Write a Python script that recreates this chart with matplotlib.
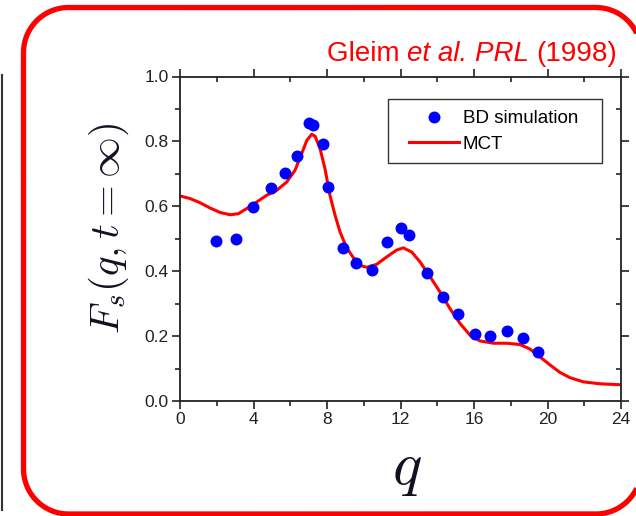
import numpy as np
import matplotlib
matplotlib.use("Agg")
import matplotlib.pyplot as plt
from matplotlib.patches import Rectangle
from matplotlib.lines import Line2D

plt.rcParams['font.family'] = ['Liberation Sans', 'DejaVu Sans']
plt.rcParams['mathtext.fontset'] = 'cm'

# BD simulation points
q_bd = [1.96, 3.05, 3.95, 4.97, 5.71, 6.35, 7.04, 7.25, 7.76, 8.07, 8.85, 9.6,
        10.43, 11.28, 12.02, 12.47, 13.42, 14.29, 15.11, 16.03, 16.88, 17.81,
        18.68, 19.48]
f_bd = [0.492, 0.498, 0.598, 0.657, 0.702, 0.756, 0.856, 0.851, 0.792, 0.658,
        0.470, 0.425, 0.405, 0.491, 0.534, 0.513, 0.393, 0.321, 0.269, 0.205,
        0.199, 0.216, 0.193, 0.150]

# MCT curve
q_mct = [0.0, 0.54, 1.09, 1.63, 2.18, 2.72, 3.17, 3.63, 4.17, 4.72, 5.26, 5.81,
         6.26, 6.62, 6.9, 7.17, 7.35, 7.62, 7.89, 8.16, 8.44, 8.71, 9.07, 9.43,
         9.8, 10.16, 10.7, 11.25, 11.79, 12.15, 12.61, 13.06, 13.61, 14.15,
         14.69, 15.24, 15.78, 16.33, 17.05, 17.78, 18.5, 19.05, 19.59, 20.14,
         20.68, 21.22, 21.95, 22.86, 24.0]
f_mct = [0.632, 0.624, 0.611, 0.595, 0.581, 0.574, 0.577, 0.593, 0.613, 0.634,
         0.649, 0.675, 0.711, 0.762, 0.803, 0.822, 0.816, 0.778, 0.716, 0.634,
         0.572, 0.521, 0.472, 0.442, 0.418, 0.412, 0.421, 0.444, 0.465, 0.472,
         0.459, 0.429, 0.383, 0.336, 0.285, 0.239, 0.203, 0.185, 0.178, 0.178,
         0.174, 0.160, 0.136, 0.111, 0.088, 0.072, 0.059, 0.053, 0.050]

W, H = 636, 516
fig = plt.figure(figsize=(W / 100, H / 100), dpi=100)
ax = fig.add_axes([180 / W, 1 - 401 / H, 441 / W, 324.5 / H])

ax.plot(q_bd, f_bd, 'o', color='#0000ff', markersize=8.6, markeredgewidth=0,
        label='BD simulation', zorder=3)
ax.plot(q_mct, f_mct, '-', color='#ff0000', lw=2.2, label='MCT', zorder=2,
        solid_joinstyle='round')

ax.set_xlim(0, 24)
ax.set_ylim(0, 1.0)
ax.set_xticks(np.arange(0, 25, 4))
ax.set_xticks(np.arange(0, 25, 2), minor=True)
ax.set_yticks(np.arange(0, 1.01, 0.2))
ax.set_yticks(np.arange(0, 1.01, 0.1), minor=True)
ax.set_yticklabels(['0.0', '0.2', '0.4', '0.6', '0.8', '1.0'])

for s in ax.spines.values():
    s.set_linewidth(1.3)
    s.set_color('#222222')
ax.tick_params(which='both', direction='out', top=True, right=True,
               labelsize=12.5, colors='#222222', width=1.2)
ax.tick_params(which='major', length=6)
ax.tick_params(which='minor', length=3.5)
# top and right ticks point inward
for t in ax.xaxis.get_major_ticks() + ax.xaxis.get_minor_ticks():
    t.tick2line.set_marker(3)
for t in ax.yaxis.get_major_ticks() + ax.yaxis.get_minor_ticks():
    t.tick2line.set_marker(0)
ax.tick_params(axis='x', pad=2)
ax.tick_params(axis='y', pad=2)

ax.set_xlabel(r'$q$', fontsize=44, color='#111122', labelpad=10)
ax.xaxis.label.set_x(0.515)
ax.set_ylabel(r'$F_s(q,t=\infty)$', fontsize=29.5, color='#111122', labelpad=10)
ax.yaxis.label.set_y(0.53)

# legend without frame, frame drawn separately
leg = ax.legend(loc='upper left', bbox_to_anchor=(409 / W, 1 - 110 / H),
                bbox_transform=fig.transFigure, fontsize=13.5, frameon=False,
                handlelength=2.67, handletextpad=0.2, borderpad=0,
                labelspacing=0.45, borderaxespad=0)
fig.patches.append(Rectangle((388 / W, 1 - 163 / H), 214 / W, 64 / H,
                             transform=fig.transFigure, fill=False,
                             edgecolor='#333333', lw=1.0))

# title with mixed upright / italic parts
parts = [('Gleim ', 'normal'), ('et al. ', 'italic'), ('PRL ', 'italic'),
         ('(1998)', 'normal')]
prev = None
for txt, style in parts:
    if prev is None:
        prev = ax.annotate(txt, xy=(327 / W, 1 - 61 / H),
                           xycoords='figure fraction', color='#ff0000',
                           fontsize=20, style=style, ha='left', va='baseline',
                           annotation_clip=False)
    else:
        prev = ax.annotate(txt, xy=(1, 0), xycoords=prev, color='#ff0000',
                           fontsize=20, style=style, ha='left', va='bottom',
                           annotation_clip=False)

# red rounded frame, right side runs off the picture (pixel coords, y down)
x0, x1, y0, y1, r = 23.5, 641.0, 7.5, 514.0, 45.0
corners = [((x1 - r, y0 + r), 0, -90), ((x0 + r, y0 + r), -90, -180),
           ((x0 + r, y1 - r), 180, 90), ((x1 - r, y1 - r), 90, 0)]
fx, fy = [], []
for (cx, cy), a0, a1 in corners:
    th = np.radians(np.linspace(a0, a1, 40))
    fx.extend(cx + r * np.cos(th))
    fy.extend(cy + r * np.sin(th))
fx, fy = np.array(fx), np.array(fy)
keep = fx <= W + 1
fig.lines.append(Line2D(fx[keep] / W, 1 - fy[keep] / H,
                        transform=fig.transFigure, color='#ff0000', lw=3.8,
                        solid_capstyle='butt', solid_joinstyle='round'))

# left edge line from neighbouring panel
fig.lines.append(Line2D([2 / W, 2 / W], [1 - 75 / H, 1 - 510 / H],
                        transform=fig.transFigure, color='#333333', lw=1.5))

fig.savefig('out.png', dpi=100)
